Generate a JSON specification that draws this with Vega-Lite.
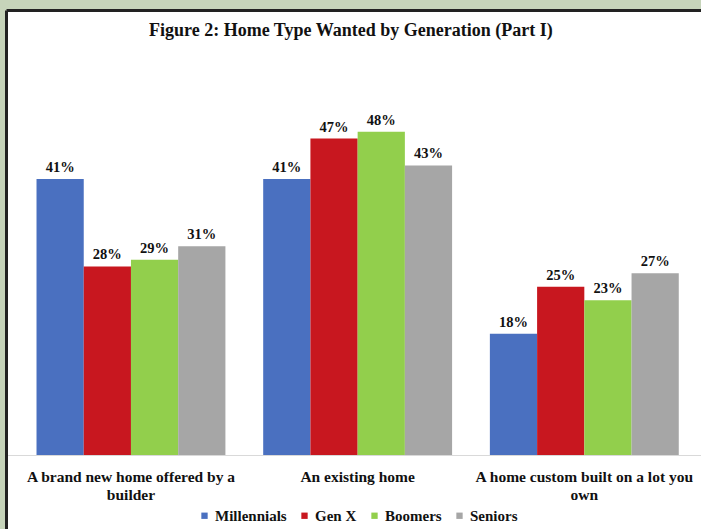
{
  "$schema": "https://vega.github.io/schema/vega-lite/v6.json",
  "autosize": {"type": "none"},
  "padding": {"left": 6, "top": 10, "right": 0, "bottom": 0},
  "width": 695,
  "height": 519,
  "background": "#c6d4ba",
  "title": {
    "text": "Figure 2: Home Type Wanted by Generation (Part I)",
    "font": "Liberation Serif",
    "fontSize": 18,
    "fontWeight": "bold",
    "color": "#111111",
    "anchor": "start",
    "frame": "group",
    "dx": 143,
    "offset": -30
  },
  "data": {
    "values": [
      {"type": "A brand new home offered by a|builder", "gen": "Millennials", "value": 41, "label": "41%"},
      {"type": "A brand new home offered by a|builder", "gen": "Gen X", "value": 28, "label": "28%"},
      {"type": "A brand new home offered by a|builder", "gen": "Boomers", "value": 29, "label": "29%"},
      {"type": "A brand new home offered by a|builder", "gen": "Seniors", "value": 31, "label": "31%"},
      {"type": "An existing home", "gen": "Millennials", "value": 41, "label": "41%"},
      {"type": "An existing home", "gen": "Gen X", "value": 47, "label": "47%"},
      {"type": "An existing home", "gen": "Boomers", "value": 48, "label": "48%"},
      {"type": "An existing home", "gen": "Seniors", "value": 43, "label": "43%"},
      {"type": "A home custom built on a lot you|own", "gen": "Millennials", "value": 18, "label": "18%"},
      {"type": "A home custom built on a lot you|own", "gen": "Gen X", "value": 25, "label": "25%"},
      {"type": "A home custom built on a lot you|own", "gen": "Boomers", "value": 23, "label": "23%"},
      {"type": "A home custom built on a lot you|own", "gen": "Seniors", "value": 27, "label": "27%"}
    ]
  },
  "resolve": {"axis": {"x": "independent", "y": "independent"}},
  "layer": [
    {
      "mark": {"type": "bar"},
      "encoding": {
        "x": {
          "field": "type",
          "type": "nominal",
          "sort": null,
          "scale": {"paddingInner": 0, "paddingOuter": 0.033, "align": 0.777},
          "axis": {
            "orient": "bottom",
            "offset": -74,
            "title": null,
            "ticks": false,
            "grid": false,
            "domainColor": "#d9d9d9",
            "domainWidth": 1,
            "labelAngle": 0,
            "labelFont": "Liberation Serif",
            "labelFontWeight": "bold",
            "labelFontSize": 15.5,
            "labelColor": "#111111",
            "labelPadding": 14,
            "labelLineHeight": 18,
            "labelLimit": 400,
            "labelExpr": "split(datum.label, '|')"
          }
        },
        "xOffset": {
          "field": "gen",
          "type": "nominal",
          "sort": ["Millennials", "Gen X", "Boomers", "Seniors"],
          "scale": {"paddingInner": 0, "paddingOuter": 0.4}
        },
        "y": {
          "field": "value",
          "type": "quantitative",
          "scale": {"domain": [-11, 66.1], "nice": false, "zero": false},
          "axis": {
            "orient": "left",
            "title": null,
            "labels": false,
            "ticks": false,
            "grid": false,
            "domain": true,
            "domainColor": "#222222",
            "domainWidth": 3
          }
        },
        "y2": {"datum": 0},
        "color": {
          "field": "gen",
          "type": "nominal",
          "sort": ["Millennials", "Gen X", "Boomers", "Seniors"],
          "scale": {
            "domain": ["Millennials", "Gen X", "Boomers", "Seniors"],
            "range": ["#4a70c0", "#c8171f", "#92cf4c", "#a6a6a6"]
          },
          "legend": {
            "orient": "none",
            "legendX": 191,
            "legendY": 498,
            "direction": "horizontal",
            "columns": 4,
            "title": null,
            "padding": 0,
            "symbolType": "square",
            "symbolSize": 40,
            "symbolStrokeWidth": 0,
            "labelFont": "Liberation Serif",
            "labelFontWeight": "bold",
            "labelFontSize": 15,
            "labelColor": "#111111",
            "columnPadding": 10,
            "labelOffset": 3
          }
        }
      }
    },
    {
      "mark": {
        "type": "text",
        "dy": -11,
        "font": "Liberation Serif",
        "fontWeight": "bold",
        "fontSize": 14.5,
        "color": "#111111"
      },
      "encoding": {
        "x": {
          "field": "type",
          "type": "nominal",
          "sort": null,
          "axis": {
            "orient": "top",
            "title": null,
            "labels": false,
            "ticks": false,
            "grid": false,
            "domain": true,
            "domainColor": "#222222",
            "domainWidth": 3
          }
        },
        "xOffset": {
          "field": "gen",
          "type": "nominal",
          "sort": ["Millennials", "Gen X", "Boomers", "Seniors"]
        },
        "y": {"field": "value", "type": "quantitative", "axis": null},
        "text": {"field": "label"}
      }
    }
  ],
  "config": {
    "view": {"fill": "#ffffff", "stroke": null}
  }
}
